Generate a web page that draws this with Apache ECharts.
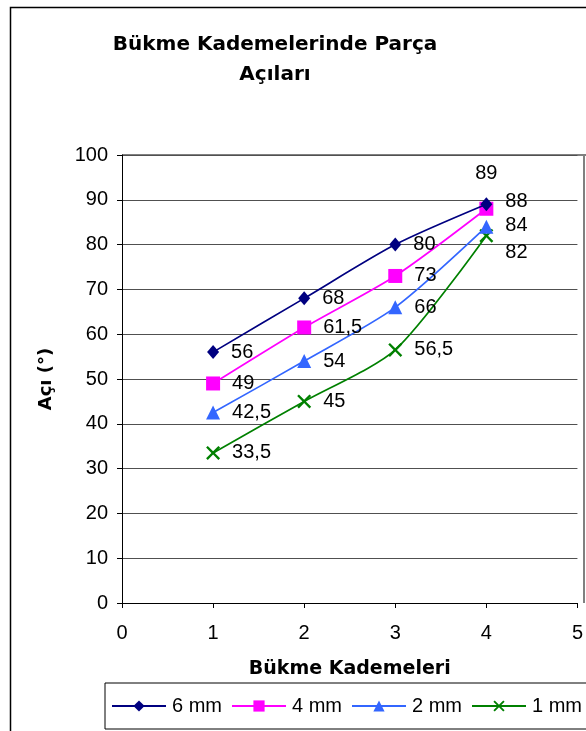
<!DOCTYPE html>
<html>
<head>
<meta charset="utf-8">
<script src="https://cdn.jsdelivr.net/npm/echarts@6/dist/echarts.min.js"></script>
<style>
html,body{margin:0;padding:0;background:#fff;}
#c{width:586px;height:731px;}
</style>
</head>
<body>
<div id="c"></div>
<script>
// ---- data ----
var xValues = [1, 2, 3, 4];
var seriesNames = ['6 mm', '4 mm', '2 mm', '1 mm'];
var mm6 = [56, 68, 80, 89];
var mm4 = [49, 61.5, 73, 88];
var mm2 = [42.5, 54, 66, 84];
var mm1 = [33.5, 45, 56.5, 82];
var yTicks = [0, 10, 20, 30, 40, 50, 60, 70, 80, 90, 100];
var xTicks = [0, 1, 2, 3, 4, 5];
var titleText = 'Bükme Kademelerinde Parça\nAçıları';
var xName = 'Bükme Kademeleri';
var yName = 'Açı (°)';

// ---- styles ----
var FONT = 'Liberation Sans, Arial, sans-serif';
var BFONT = 'DejaVu Sans, Liberation Sans, sans-serif';
var colors = ['#000080', '#FF00FF', '#3366FF', '#008000'];
var symbols = [
  'diamond',
  'rect',
  'triangle',
  'path://M0,1.2L1.2,0L5,3.8L8.8,0L10,1.2L6.2,5L10,8.8L8.8,10L5,6.2L1.2,10L0,8.8L3.8,5Z'
];
var symbolSizes = [[12, 14], 14, 14, 14];
var allData = [mm6, mm4, mm2, mm1];
// label placement overrides for the last point (style only)
var lastLabel = [
  {position: 'top', distance: 14},
  {position: 'right', distance: 12, offset: [0, -7]},
  {position: 'right', distance: 12, offset: [0, -1]},
  {position: 'right', distance: 12, offset: [0, 17]}
];

function fmt(v) { return String(v).replace('.', ','); }

var series = seriesNames.map(function (name, si) {
  return {
    name: name,
    type: 'line',
    smooth: 0.25,
    symbol: symbols[si],
    symbolSize: symbolSizes[si],
    lineStyle: {color: colors[si], width: 1.7},
    itemStyle: {color: colors[si]},
    label: {
      show: true,
      position: 'right',
      distance: 12,
      color: '#000',
      fontFamily: FONT,
      fontSize: 20,
      formatter: function (p) { return fmt(p.value[1]); }
    },
    data: xValues.map(function (x, i) {
      var d = {value: [x, allData[si][i]]};
      if (i === xValues.length - 1) d.label = lastLabel[si];
      return d;
    }),
    z: 10 - si
  };
});

var chart = echarts.init(document.getElementById('c'), null, {renderer: 'canvas'});
chart.setOption({
  animation: false,
  backgroundColor: '#fff',
  title: {
    text: titleText,
    left: 270,
    top: 25,
    textAlign: 'center',
    textStyle: {fontFamily: BFONT, fontSize: 20, fontWeight: 'bold', color: '#000', lineHeight: 30}
  },
  graphic: [
    {type: 'rect', shape: {x: 10.5, y: 7.5, width: 700, height: 800},
     style: {fill: null, stroke: '#000', lineWidth: 1.5}, silent: true, z: -10},
    {type: 'line', shape: {x1: 122, y1: 155, x2: 600, y2: 155},
     style: {stroke: '#808080', lineWidth: 2}, z: 0},
    {type: 'line', shape: {x1: 584, y1: 155, x2: 584, y2: 603},
     style: {stroke: '#808080', lineWidth: 2}, z: 0}
  ],
  legend: {
    left: 105,
    top: 683,
    width: 560,
    orient: 'horizontal',
    padding: [13, 8, 13, 6],
    itemGap: 9,
    itemWidth: 54,
    itemHeight: 14,
    borderColor: '#000',
    borderWidth: 1,
    textStyle: {fontFamily: FONT, fontSize: 20, color: '#000', padding: [0, 0, 0, 1]},
    data: seriesNames
  },
  grid: {left: 122, top: 155, right: 4, bottom: 128, containLabel: false},
  xAxis: {
    type: 'value',
    min: xTicks[0],
    max: xTicks[xTicks.length - 1],
    interval: 1,
    name: xName,
    nameLocation: 'middle',
    nameGap: 57,
    nameTextStyle: {fontFamily: BFONT, fontSize: 19, fontWeight: 'bold', color: '#000'},
    axisLine: {show: true, onZero: false, lineStyle: {color: '#000', width: 1}},
    axisTick: {show: true, length: 5, lineStyle: {color: '#000'}},
    axisLabel: {fontFamily: FONT, fontSize: 20, color: '#000', margin: 20, showMaxLabel: true},
    splitLine: {show: false}
  },
  yAxis: {
    type: 'value',
    min: yTicks[0],
    max: yTicks[yTicks.length - 1],
    interval: 10,
    name: yName,
    nameLocation: 'middle',
    nameGap: 67,
    nameRotate: 90,
    nameTextStyle: {fontFamily: BFONT, fontSize: 18, fontWeight: 'bold', color: '#000'},
    axisLine: {show: true, lineStyle: {color: '#000', width: 1}},
    axisTick: {show: true, length: 5, lineStyle: {color: '#000'}},
    axisLabel: {fontFamily: FONT, fontSize: 20, color: '#000', margin: 14},
    splitLine: {show: true, lineStyle: {color: '#505050', width: 1}}
  },
  series: series
});
</script>
</body>
</html>
